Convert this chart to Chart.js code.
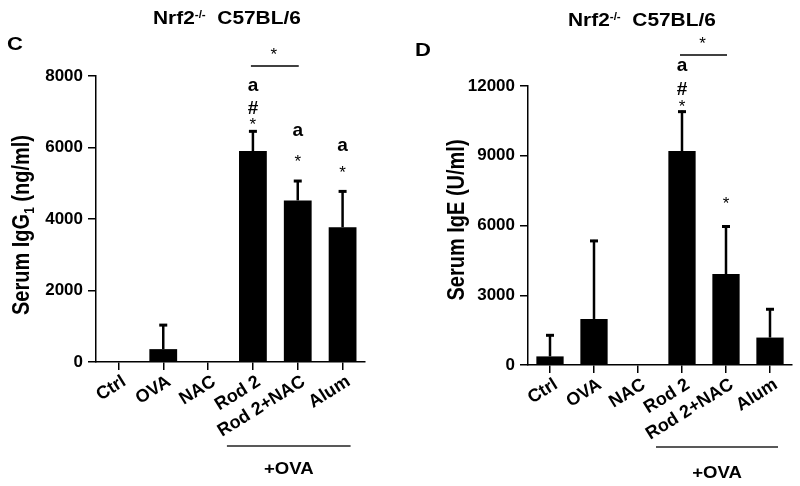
<!DOCTYPE html>
<html>
<head>
<meta charset="utf-8">
<script src="https://cdn.jsdelivr.net/npm/chart.js@4.4.1/dist/chart.umd.min.js"></script>
<style>
    html, body { margin: 0; padding: 0; background: #fff; }
    #wrap { position: relative; width: 800px; height: 486px; }
    canvas { position: absolute; top: 0; }
    #chartC { left: 0; }
    #chartD { left: 400px; }
</style>
</head>
<body>
<div id="wrap">
    <canvas id="chartC" width="400" height="486"></canvas>
    <canvas id="chartD" width="400" height="486"></canvas>
</div>
<script>
// Data
const categories = ['Ctrl', 'OVA', 'NAC', 'Rod 2', 'Rod 2+NAC', 'Alum'];

const igg1Mean = [0, 360, 0, 5900, 4520, 3770];
const igg1Err = [0, 700, 0, 580, 570, 1030];
const igg1Ticks = [0, 2000, 4000, 6000, 8000];
const igg1Marks = [[], [], [], ['*', '#', 'a'], ['*', 'a'], ['*', 'a']];

const igeMean = [370, 1980, 0, 9200, 3910, 1180];
const igeErr = [950, 3400, 0, 1740, 2090, 1260];
const igeTicks = [0, 3000, 6000, 9000, 12000];
const igeMarks = [[], [], [], ['*', '#', 'a'], ['*'], []];

const sigPair = ['Rod 2', 'Rod 2+NAC'];
const ovaGroup = ['Rod 2', 'Alum'];

const FONT = '"Liberation Sans", Arial, Helvetica, sans-serif';
const SX = 1.16; // the lettering in the figure is a bit wider than tall

// visual centre of a glyph above its baseline, in em
const glyphMid = { 'a': 0.26, '#': 0.35, '*': 0.59 };

// draw a run of text pieces, stretched horizontally
function drawRun(ctx, parts, x, y, align) {
    ctx.save();
    ctx.textBaseline = 'alphabetic';
    ctx.textAlign = 'left';
    let total = 0;
    parts.forEach(p => {
        ctx.font = p.font;
        total += ctx.measureText(p.t).width;
    });
    ctx.translate(x, y);
    ctx.scale(SX, 1);
    let cx = align === 'center' ? -total / 2 : 0;
    parts.forEach(p => {
        ctx.font = p.font;
        ctx.fillText(p.t, cx, p.dy || 0);
        cx += ctx.measureText(p.t).width;
    });
    ctx.restore();
}

// rotated axis title, centred on (x, y)
function drawYTitle(ctx, parts, x, y, size) {
    ctx.save();
    ctx.textBaseline = 'alphabetic';
    ctx.textAlign = 'left';
    let total = 0;
    parts.forEach(p => {
        ctx.font = p.font;
        total += ctx.measureText(p.t).width;
    });
    ctx.translate(x, y);
    ctx.rotate(-Math.PI / 2);
    ctx.scale(1, SX);
    let cx = -total / 2;
    const base = size * 0.27;
    parts.forEach(p => {
        ctx.font = p.font;
        ctx.fillText(p.t, cx, base + (p.dy || 0));
        cx += ctx.measureText(p.t).width;
    });
    ctx.restore();
}

const extrasPlugin = {
    id: 'extras',
    afterDatasetsDraw(chart, args, o) {
        const ctx = chart.ctx;
        const xs = chart.scales.x;
        const ys = chart.scales.y;
        const area = chart.chartArea;

        // error bars (upper only)
        ctx.save();
        ctx.strokeStyle = '#000';
        o.mean.forEach((m, i) => {
            if (!o.err[i]) return;
            const x = xs.getPixelForValue(i);
            const y0 = ys.getPixelForValue(m);
            const y1 = ys.getPixelForValue(m + o.err[i]);
            ctx.lineWidth = 2.5;
            ctx.beginPath();
            ctx.moveTo(x, y0);
            ctx.lineTo(x, y1);
            ctx.stroke();
            ctx.lineWidth = 3;
            ctx.beginPath();
            ctx.moveTo(x - 4, y1 + 1);
            ctx.lineTo(x + 4, y1 + 1);
            ctx.stroke();
        });
        ctx.restore();

        // significance letters above bars
        ctx.save();
        ctx.fillStyle = '#000';
        ctx.textAlign = 'center';
        ctx.textBaseline = 'alphabetic';
        o.marks.forEach((list, i) => {
            const x = xs.getPixelForValue(i);
            const capY = ys.getPixelForValue(o.mean[i] + o.err[i]);
            list.forEach((mk, j) => {
                const size = mk === '*' ? 17 : 19;
                ctx.font = (mk === '*' ? '' : 'bold ') + size + 'px ' + FONT;
                const mid = capY - o.markOffsets[i][j];
                ctx.fillText(mk, x, mid + glyphMid[mk] * size);
            });
        });
        ctx.restore();

        // bracket between Rod 2 and Rod 2+NAC
        const sa = xs.getPixelForValue(categories.indexOf(sigPair[0])) - 2;
        const sb = xs.getPixelForValue(categories.indexOf(sigPair[1])) + 1;
        const sy = area.top - o.sigLine;
        ctx.save();
        ctx.strokeStyle = '#000';
        ctx.lineWidth = 1.5;
        ctx.beginPath();
        ctx.moveTo(sa, sy);
        ctx.lineTo(sb, sy);
        ctx.stroke();
        ctx.fillStyle = '#000';
        ctx.textAlign = 'center';
        ctx.font = '17px ' + FONT;
        ctx.fillText('*', (sa + sb) / 2 - 1, area.top - o.sigStar + glyphMid['*'] * 17);
        ctx.restore();

        // +OVA group line under the axis labels
        const ga = xs.getPixelForValue(categories.indexOf(ovaGroup[0])) - 26;
        const gb = xs.getPixelForValue(categories.indexOf(ovaGroup[1])) + 8;
        const gy = area.bottom + o.groupLine;
        ctx.save();
        ctx.strokeStyle = '#222';
        ctx.lineWidth = 1.5;
        ctx.beginPath();
        ctx.moveTo(ga, gy);
        ctx.lineTo(gb, gy);
        ctx.stroke();
        ctx.fillStyle = '#000';
        drawRun(ctx, [{ t: '+OVA', font: 'bold 16px ' + FONT }], (ga + gb) / 2, area.bottom + o.groupText, 'center');
        ctx.restore();

        // figure title and panel letter
        ctx.fillStyle = '#000';
        drawRun(ctx, [
            { t: 'Nrf2', font: 'bold 18px ' + FONT },
            { t: '-/-', font: 'bold 10px ' + FONT, dy: -6 },
            { t: '  C57BL/6', font: 'bold 18px ' + FONT }
        ], o.titleX, o.titleY, 'left');
        drawRun(ctx, [{ t: o.letter, font: 'bold 19px ' + FONT }], o.letterX, o.letterY, 'left');

        // y axis title
        drawYTitle(ctx, o.yTitle, o.yTitleX, o.yTitleY, 20);
    }
};

function makeChart(id, mean, err, ticks, marks, o) {
    const ctx = document.getElementById(id).getContext('2d');
    return new Chart(ctx, {
        type: 'bar',
        data: {
            labels: categories,
            datasets: [{
                data: mean,
                backgroundColor: '#000',
                borderWidth: 0,
                barPercentage: 0.62,
                categoryPercentage: 1
            }]
        },
        options: {
            responsive: false,
            animation: false,
            layout: { padding: { left: 0, top: o.padTop, right: o.padRight, bottom: 0 } },
            plugins: {
                legend: { display: false },
                tooltip: { enabled: false },
                extras: Object.assign({ mean: mean, err: err, marks: marks }, o)
            },
            scales: {
                x: {
                    afterFit: (scale) => { scale.height = o.xHeight; },
                    grid: { offset: false, drawOnChartArea: false, tickLength: 8, lineWidth: 1.5, color: '#000' },
                    border: { color: '#000', width: 1.5 },
                    ticks: {
                        color: '#000',
                        font: { family: FONT, size: 18, weight: 'bold' },
                        minRotation: 32,
                        maxRotation: 32,
                        autoSkip: false,
                        padding: 1,
                        labelOffset: 6
                    }
                },
                y: {
                    afterFit: (scale) => { scale.width = o.yWidth; },
                    min: ticks[0],
                    max: ticks[ticks.length - 1],
                    grid: { drawOnChartArea: false, tickLength: 8, lineWidth: 1.5, color: '#000' },
                    border: { color: '#000', width: 1.5 },
                    ticks: {
                        stepSize: ticks[1] - ticks[0],
                        color: '#000',
                        padding: 5,
                        font: { family: FONT, size: 17, weight: 'bold' },
                        callback: (v) => String(v)
                    }
                }
            }
        },
        plugins: [extrasPlugin]
    });
}

makeChart('chartC', igg1Mean, igg1Err, igg1Ticks, igg1Marks, {
    padTop: 76, padRight: 35, yWidth: 96, xHeight: 124,
    markOffsets: { 3: [10, 23, 44], 4: [23, 49], 5: [22, 44] },
    sigLine: 10, sigStar: 26, groupLine: 84, groupText: 112,
    titleX: 153, titleY: 24, letter: 'C', letterX: 7, letterY: 50,
    yTitle: [
        { t: 'Serum IgG', font: 'bold 20px ' + FONT },
        { t: '1', font: 'bold 12px ' + FONT, dy: 4 },
        { t: ' (ng/ml)', font: 'bold 20px ' + FONT }
    ],
    yTitleX: 23, yTitleY: 225
});

makeChart('chartD', igeMean, igeErr, igeTicks, igeMarks, {
    padTop: 86, padRight: 8, yWidth: 128, xHeight: 121,
    markOffsets: { 3: [9, 22, 45], 4: [27] },
    sigLine: 31, sigStar: 47, groupLine: 82, groupText: 113,
    titleX: 168, titleY: 26, letter: 'D', letterX: 15, letterY: 56,
    yTitle: [{ t: 'Serum IgE (U/ml)', font: 'bold 20px ' + FONT }],
    yTitleX: 58, yTitleY: 220
});
</script>
</body>
</html>
